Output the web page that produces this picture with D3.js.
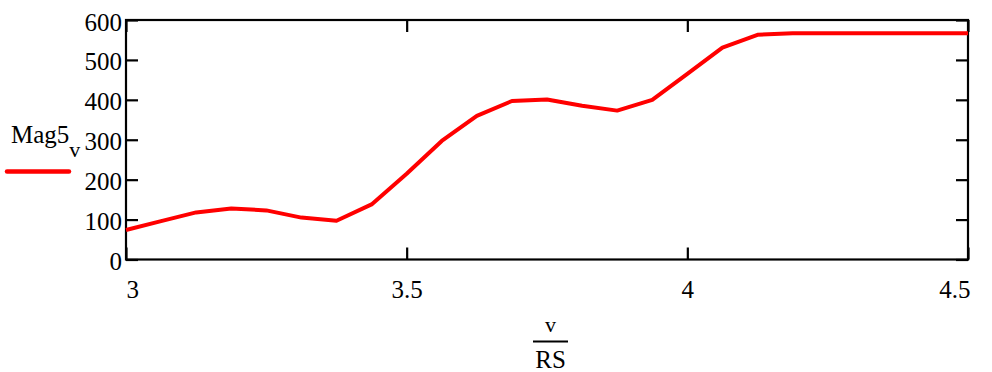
<!DOCTYPE html>
<html>
<head>
<meta charset="utf-8">
<script src="https://cdn.jsdelivr.net/npm/d3@7"></script>
<style>
  html, body { margin: 0; padding: 0; background: #fff; }
  svg { display: block; }
  svg text { font-family: "Liberation Serif", "Times New Roman", serif; fill: #000; }
</style>
</head>
<body>
<svg id="chart" width="992" height="372"></svg>
<script>
// v/RS sample positions
const xValues = [3, 3.0625, 3.125, 3.1875, 3.25, 3.3125, 3.375, 3.4375, 3.5,
  3.5625, 3.625, 3.6875, 3.75, 3.8125, 3.875, 3.9375, 4, 4.0625, 4.125,
  4.1875, 4.25, 4.3125, 4.375, 4.4375, 4.5];
// Mag5 at each sample
const mag5 = [74, 96, 118, 128, 123, 105, 97, 138, 215, 297, 360, 397, 401,
  385, 373, 400, 465, 531, 563, 567, 567, 567, 567, 567, 567];
const xTicks = [3, 3.5, 4, 4.5];
const yTicks = [0, 100, 200, 300, 400, 500, 600];

const svg = d3.select("#chart");
const plotLeft = 126, plotRight = 968, plotTop = 20, plotBottom = 259.5;
const fontSize = 25;
const serif = '"Liberation Serif", "Times New Roman", serif';

const x = d3.scaleLinear().domain([3, 4.5]).range([plotLeft, plotRight]);
const y = d3.scaleLinear().domain([0, 600]).range([plotBottom, plotTop]);

// frame
svg.append("rect")
  .attr("x", plotLeft).attr("y", plotTop)
  .attr("width", plotRight - plotLeft).attr("height", plotBottom - plotTop)
  .attr("fill", "none").attr("stroke", "#000").attr("stroke-width", 2.2);

function styleAxis(g) {
  g.attr("font-family", null).attr("font-size", null);
  g.select(".domain").remove();
  g.selectAll(".tick line").attr("stroke", "#000").attr("stroke-width", 2.2);
  g.selectAll("text")
    .style("font-family", serif)
    .style("font-size", fontSize + "px")
    .style("fill", "#000");
}

// left axis with inward ticks and labels
const gLeft = svg.append("g").attr("transform", `translate(${plotLeft},0)`)
  .call(d3.axisLeft(y).tickValues(yTicks).tickSize(-12).tickPadding(4).tickFormat(d3.format("d")))
  .call(styleAxis);
gLeft.selectAll("text").attr("dy", null).attr("dominant-baseline", "central").attr("y", 1.5);

// right axis, ticks only
svg.append("g").attr("transform", `translate(${plotRight},0)`)
  .call(d3.axisRight(y).tickValues(yTicks).tickSize(-12).tickFormat(""))
  .call(styleAxis);

// bottom axis
const gBottom = svg.append("g").attr("transform", `translate(0,${plotBottom})`)
  .call(d3.axisBottom(x).tickValues(xTicks).tickSize(-12).tickPadding(0).tickFormat(d => String(d)))
  .call(styleAxis);
gBottom.selectAll("text").attr("dy", null).attr("y", 38.5)
  .attr("text-anchor", d => d === 3 ? "start" : (d === 4.5 ? "end" : "middle"))
  .attr("x", d => d === 4.5 ? 2 : 0);

// top axis, ticks only
svg.append("g").attr("transform", `translate(0,${plotTop})`)
  .call(d3.axisTop(x).tickValues(xTicks).tickSize(-12).tickFormat(""))
  .call(styleAxis);

// trace
const line = d3.line().x((d, i) => x(xValues[i])).y(d => y(d));
svg.append("path").datum(mag5)
  .attr("d", line)
  .attr("fill", "none").attr("stroke", "#ff0000")
  .attr("stroke-width", 4).attr("stroke-linejoin", "round");

// legend: Mag5 with subscript v
const leg = svg.append("text").attr("x", 11).attr("y", 143).style("font-size", fontSize + "px");
leg.append("tspan").text("Mag5");
leg.append("tspan").style("font-size", "22px").attr("dy", 14).text("v");
svg.append("line").attr("x1", 7).attr("x2", 69).attr("y1", 171.5).attr("y2", 171.5)
  .attr("stroke", "#ff0000").attr("stroke-width", 4.5).attr("stroke-linecap", "round");

// x title: v over RS
const cx = 550.5;
svg.append("text").attr("x", cx).attr("y", 332).attr("text-anchor", "middle")
  .style("font-size", "22px").text("v");
svg.append("line").attr("x1", 533).attr("x2", 568).attr("y1", 341.5).attr("y2", 341.5)
  .attr("stroke", "#000").attr("stroke-width", 2);
svg.append("text").attr("x", cx).attr("y", 368).attr("text-anchor", "middle")
  .style("font-size", fontSize + "px").text("RS");
</script>
</body>
</html>
